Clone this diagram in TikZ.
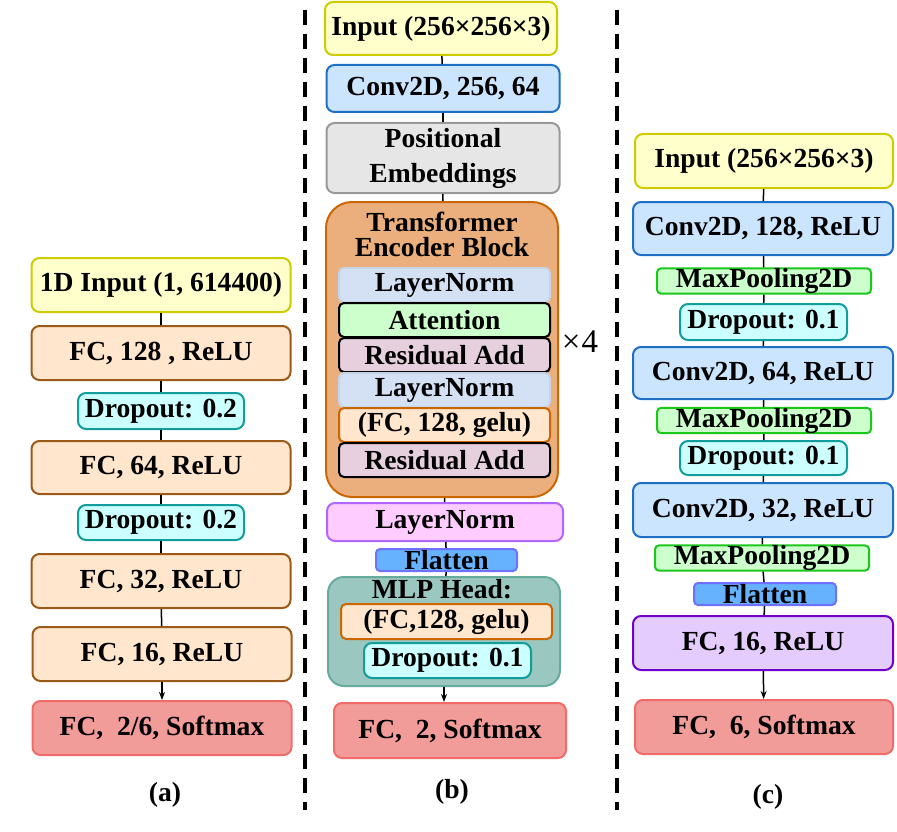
\documentclass[tikz,border=0pt]{standalone}
\usepackage{fontspec}
\setmainfont{Liberation Serif}
\usetikzlibrary{arrows.meta}
\definecolor{inF}{HTML}{FFFFCC}\definecolor{inD}{HTML}{CCCC00}
\definecolor{fcF}{HTML}{FFE6CC}\definecolor{fcD}{HTML}{9C5A1A}
\definecolor{doF}{HTML}{CCFFFF}\definecolor{doD}{HTML}{139C9C}
\definecolor{smF}{HTML}{F19C99}\definecolor{smD}{HTML}{F26B6B}
\definecolor{cvF}{HTML}{CCE5FF}\definecolor{cvD}{HTML}{1F6FC6}
\definecolor{peF}{HTML}{E6E6E6}\definecolor{peD}{HTML}{999999}
\definecolor{trF}{HTML}{EAAF7D}\definecolor{trD}{HTML}{CC6600}
\definecolor{lnF}{HTML}{D4E1F5}\definecolor{lnD}{HTML}{C7D3E6}
\definecolor{atF}{HTML}{CCFFCC}
\definecolor{raF}{HTML}{E6D0DE}
\definecolor{fgD}{HTML}{CC6600}
\definecolor{lpF}{HTML}{FFCCFF}\definecolor{lpD}{HTML}{B266FF}
\definecolor{flF}{HTML}{66B2FF}\definecolor{flD}{HTML}{7070FF}
\definecolor{mlF}{HTML}{9AC7BF}\definecolor{mlD}{HTML}{67AB9F}
\definecolor{mpF}{HTML}{CCFFCC}\definecolor{mpD}{HTML}{1AC71A}
\definecolor{f16F}{HTML}{E5CCFF}\definecolor{f16D}{HTML}{7000CC}
\tikzset{
  bx/.style={draw, rounded corners=8pt, line width=2pt, inner sep=0pt, align=center,
    font=\bfseries\fontsize{27.6}{30}\selectfont},
  inp/.style={bx, fill=inF, draw=inD},
  fcb/.style={bx, fill=fcF, draw=fcD},
  dob/.style={bx, fill=doF, draw=doD},
  smb/.style={bx, fill=smF, draw=smD},
  cvb/.style={bx, fill=cvF, draw=cvD},
  peb/.style={bx, fill=peF, draw=peD, font=\bfseries\fontsize{27.6}{35}\selectfont},
  trb/.style={bx, fill=trF, draw=trD, rounded corners=26pt},
  lnb/.style={bx, fill=lnF, draw=lnD, rounded corners=5pt},
  atb/.style={bx, fill=atF, draw=black, rounded corners=5pt},
  rab/.style={bx, fill=raF, draw=black, rounded corners=5pt},
  fgb/.style={bx, fill=fcF, draw=fgD, rounded corners=5pt},
  lpb/.style={bx, fill=lpF, draw=lpD},
  flb/.style={bx, fill=flF, draw=flD, rounded corners=4pt},
  mlb/.style={bx, fill=mlF, draw=mlD, rounded corners=16pt},
  mpb/.style={bx, fill=mpF, draw=mpD, rounded corners=4pt},
  f16b/.style={bx, fill=f16F, draw=f16D},
  lbl/.style={font=\bfseries\fontsize{27.6}{30}\selectfont, inner sep=0pt},
  con/.style={line width=1.5pt, black},
  arr/.style={con, -{Stealth[length=8pt,width=6pt]}},
  sep/.style={line width=4pt, dash pattern=on 15pt off 9pt}
}
\begin{document}
\begin{tikzpicture}[x=1pt,y=-1pt]
\useasboundingbox (0,0) rectangle (897,832);
% separators
\coordinate (s1t) at (305,10); \coordinate (s1b) at (305,810);
\coordinate (s2t) at (617,10); \coordinate (s2b) at (617,810);
\draw[sep] (s1t) -- (s1b);
\draw[sep] (s2t) -- (s2b);

% ---------- (a)
\node[inp, minimum width=259pt, minimum height=54pt] (a1) at (161,285) {1D Input (1, 614400)};
\node[fcb, minimum width=259pt, minimum height=54pt] (a2) at (161,353) {FC, 128 , ReLU};
\node[dob, minimum width=166pt, minimum height=36pt] (a3) at (161,411) {Dropout: 0.2};
\node[fcb, minimum width=259pt, minimum height=53pt] (a4) at (161,467.5) {FC, 64, ReLU};
\node[dob, minimum width=166pt, minimum height=35pt] (a5) at (161,522.5) {Dropout: 0.2};
\node[fcb, minimum width=259pt, minimum height=54pt] (a6) at (161,581) {FC, 32, ReLU};
\node[fcb, minimum width=259pt, minimum height=54pt] (a7) at (162,654) {FC, 16, ReLU};
\node[smb, minimum width=259pt, minimum height=54pt] (a8) at (162,728) {FC,\ \ 2/6, Softmax};
\node[lbl] (la) at (165,795) {(a)};
\draw[con] (a1) -- (a2); \draw[con] (a2) -- (a3); \draw[con] (a3) -- (a4);
\draw[con] (a4) -- (a5); \draw[con] (a5) -- (a6); \draw[con] (a6) -- (a7);
\draw[arr] (a7) -- (a8);

% ---------- (b)
\node[inp, minimum width=232pt, minimum height=53pt] (b1) at (441,28.5) {Input (256×256×3)};
\node[cvb, minimum width=233pt, minimum height=47pt] (b2) at (443,88.5) {Conv2D, 256, 64};
\node[peb, minimum width=233pt, minimum height=70pt] (b3) at (443,158) {Positional\\Embeddings};
\node[trb, minimum width=232pt, minimum height=295pt] (b4) at (442,349.5) {};
\node[lbl, align=center, font=\bfseries\fontsize{27.6}{25}\selectfont] (bt) at (442,234) {Transformer\\Encoder Block};
\node[lnb, minimum width=211pt, minimum height=34pt] (b41) at (444.5,285) {LayerNorm};
\node[atb, minimum width=211pt, minimum height=34pt] (b42) at (444.5,320) {Attention};
\node[rab, minimum width=211pt, minimum height=34pt] (b43) at (444.5,355) {Residual Add};
\node[lnb, minimum width=211pt, minimum height=34pt] (b44) at (444.5,390) {LayerNorm};
\node[fgb, minimum width=211pt, minimum height=34pt] (b45) at (444.5,425) {(FC, 128, gelu)};
\node[rab, minimum width=211pt, minimum height=34pt] (b46) at (444.5,460) {Residual Add};
\node[inner sep=0pt, font=\fontsize{33}{36}\selectfont] (x4) at (580,342) {×\kern1pt 4};
\node[lpb, minimum width=236pt, minimum height=38pt] (b5) at (445,522) {LayerNorm};
\node[flb, minimum width=141pt, minimum height=22pt] (b6) at (446.5,560) {Flatten};
\node[mlb, minimum width=232pt, minimum height=109pt] (b7) at (444,631.5) {};
\node[lbl] (mt) at (442,589) {MLP Head:};
\node[fgb, minimum width=211pt, minimum height=35pt] (b8) at (446.5,621.5) {(FC,128, gelu)};
\node[dob, minimum width=167pt, minimum height=35pt] (b9) at (447.5,660.5) {Dropout: 0.1};
\node[smb, minimum width=232pt, minimum height=55pt] (b10) at (450,730.5) {FC,\ \ 2, Softmax};
\node[lbl] (lb) at (452,792) {(b)};
\draw[con] (b1) -- (b2); \draw[con] (b2) -- (b3); \draw[con] (b3) -- (b4);
\draw[con] (b4) -- (b5); \draw[con] (b5) -- (b6); \draw[con] (b6) -- (b7);
\draw[arr] (b7.south) -- (b7.south |- b10.north);

% ---------- (c)
\node[inp, minimum width=258pt, minimum height=54pt] (c1) at (764,161) {Input (256×256×3)};
\node[cvb, minimum width=260pt, minimum height=53pt] (c2) at (763,228.5) {Conv2D, 128, ReLU};
\node[mpb, minimum width=214pt, minimum height=24pt] (c3) at (764,281) {MaxPooling2D};
\node[dob, minimum width=167pt, minimum height=36pt] (c4) at (763.5,322) {Dropout: 0.1};
\node[cvb, minimum width=260pt, minimum height=52pt] (c5) at (763,373) {Conv2D, 64, ReLU};
\node[mpb, minimum width=214pt, minimum height=25pt] (c6) at (764,420.5) {MaxPooling2D};
\node[dob, minimum width=167pt, minimum height=34pt] (c7) at (763.5,458) {Dropout: 0.1};
\node[cvb, minimum width=260pt, minimum height=54pt] (c8) at (763,510) {Conv2D, 32, ReLU};
\node[mpb, minimum width=214pt, minimum height=24pt] (c9) at (762,558) {MaxPooling2D};
\node[flb, minimum width=142pt, minimum height=22pt] (c10) at (765,594) {Flatten};
\node[f16b, minimum width=260pt, minimum height=54pt] (c11) at (763,643) {FC, 16, ReLU};
\node[smb, minimum width=258pt, minimum height=54pt] (c12) at (764,727) {FC,\ \ 6, Softmax};
\node[lbl] (lc) at (768,797) {(c)};
\draw[con] (c1) -- (c2); \draw[con] (c2) -- (c3); \draw[con] (c3) -- (c4);
\draw[con] (c4) -- (c5); \draw[con] (c5) -- (c6); \draw[con] (c6) -- (c7);
\draw[con] (c7) -- (c8); \draw[con] (c8) -- (c9); \draw[con] (c9) -- (c10);
\draw[con] (c10) -- (c11);
\draw[arr] (c11) -- (c12);
\end{tikzpicture}
\end{document}
